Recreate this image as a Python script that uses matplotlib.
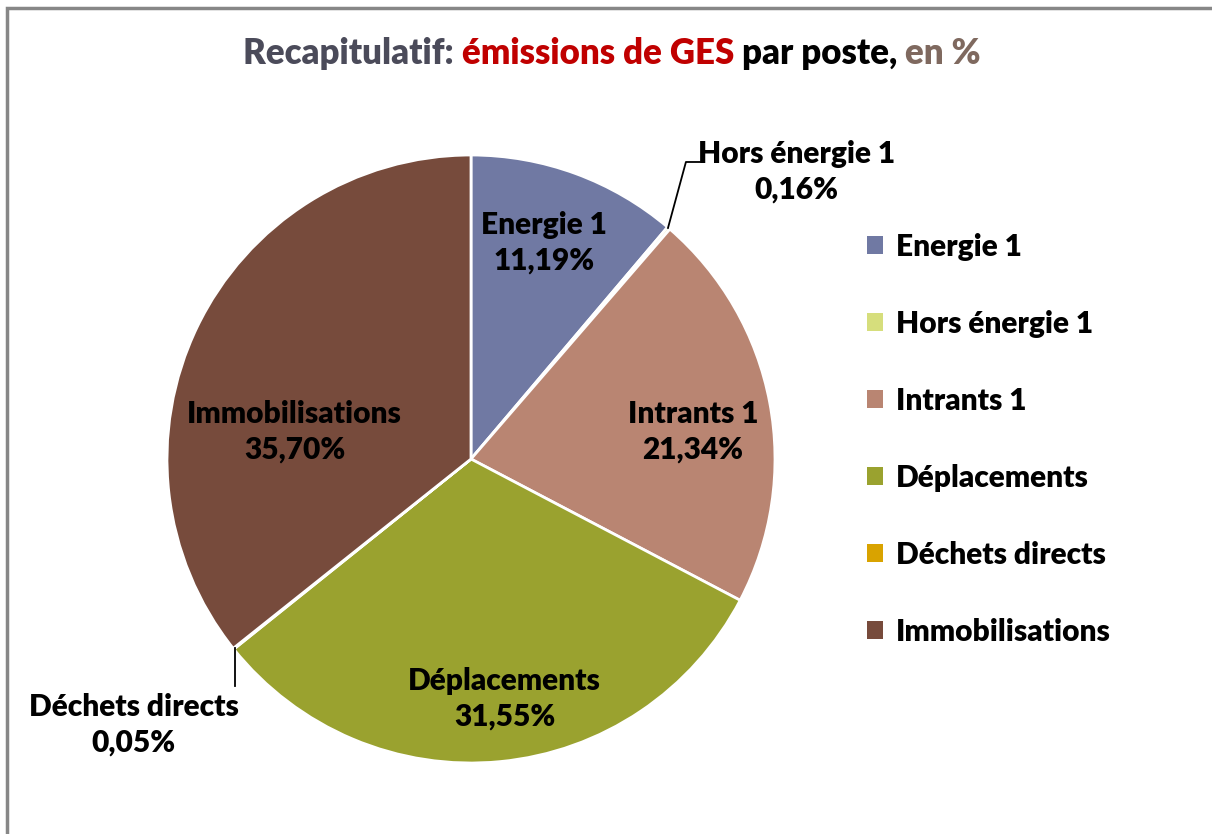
import matplotlib.pyplot as plt
from matplotlib.patches import Patch, Rectangle

# data
categories = ['Energie 1', 'Hors énergie 1', 'Intrants 1', 'Déplacements',
              'Déchets directs', 'Immobilisations']
shares = [11.19, 0.16, 21.34, 31.55, 0.05, 35.70]
colors = ['#7079a3', '#d6de7c', '#b98572', '#9aa22f', '#d9a300', '#774b3c']
pct_labels = ['11,19%', '0,16%', '21,34%', '31,55%', '0,05%', '35,70%']

# label positions in pie units (radius = 1), set by hand like Excel "best fit"
label_pos = [(0.24, 0.71), (1.07, 0.945), (0.73, 0.09), (0.11, -0.79),
             (-1.11, -0.875), (-0.58, 0.09)]

plt.rcParams['font.family'] = ['Lato', 'DejaVu Sans']
FS = 21.5
WT = 'heavy'

fig = plt.figure(figsize=(12.12, 8.34), dpi=100)
fig.patches.append(Rectangle((7 / 1212, -0.1), 1.2, 1.1 - 8 / 834,
                             transform=fig.transFigure, fill=False,
                             edgecolor='#878787', linewidth=2.5))

ax = fig.add_axes([(471 - 304) / 1212, 1 - (459 + 304) / 834, 608 / 1212, 608 / 834])
wedges, _ = ax.pie(shares, colors=colors, startangle=90, counterclock=False,
                   wedgeprops=dict(edgecolor='white', linewidth=2))
ax.set_xlim(-1, 1)
ax.set_ylim(-1, 1)
ax.set_aspect('equal')
ax.axis('off')

for i, (name, pct) in enumerate(zip(categories, pct_labels)):
    x, y = label_pos[i]
    ax.text(x, y, name + '\n' + pct, ha='center', va='center', fontsize=FS,
            fontweight=WT, color='black', linespacing=1.33,
            clip_on=False)

# leader lines for the tiny slices
ax.plot([0.648, 0.707, 0.753], [0.76, 0.977, 0.977], color='black', lw=1.3,
        clip_on=False)
ax.plot([-0.776, -0.776], [-0.622, -0.747], color='black', lw=1.3,
        clip_on=False)

handles = [Patch(facecolor=c, edgecolor='none') for c in colors]
leg = fig.legend(handles, categories, loc='upper left',
                 bbox_to_anchor=(840 / 1212, 1 - 206 / 834), frameon=False,
                 handlelength=0.55, handleheight=0.55, handletextpad=0.42,
                 labelspacing=1.64, prop=dict(size=FS, weight=WT))

# multi-coloured title
pieces = [('Recapitulatif: ', '#4b4b5a'), ('émissions de GES', '#c00000'),
          (' par poste, ', '#000000'), ('en %', '#7f695f')]
renderer = fig.canvas.get_renderer()
texts = []
x0 = 0
for txt, col in pieces:
    t = fig.text(x0, 1 - 53 / 834, txt, color=col, fontsize=25,
                 fontweight=WT, va='center', ha='left')
    bb = t.get_window_extent(renderer)
    x0 = x0 + bb.width / fig.bbox.width
    texts.append(t)
shift = 612 / 1212 - x0 / 2
for t in texts:
    t.set_x(t.get_position()[0] + shift)

fig.savefig('out.png', dpi=100)
